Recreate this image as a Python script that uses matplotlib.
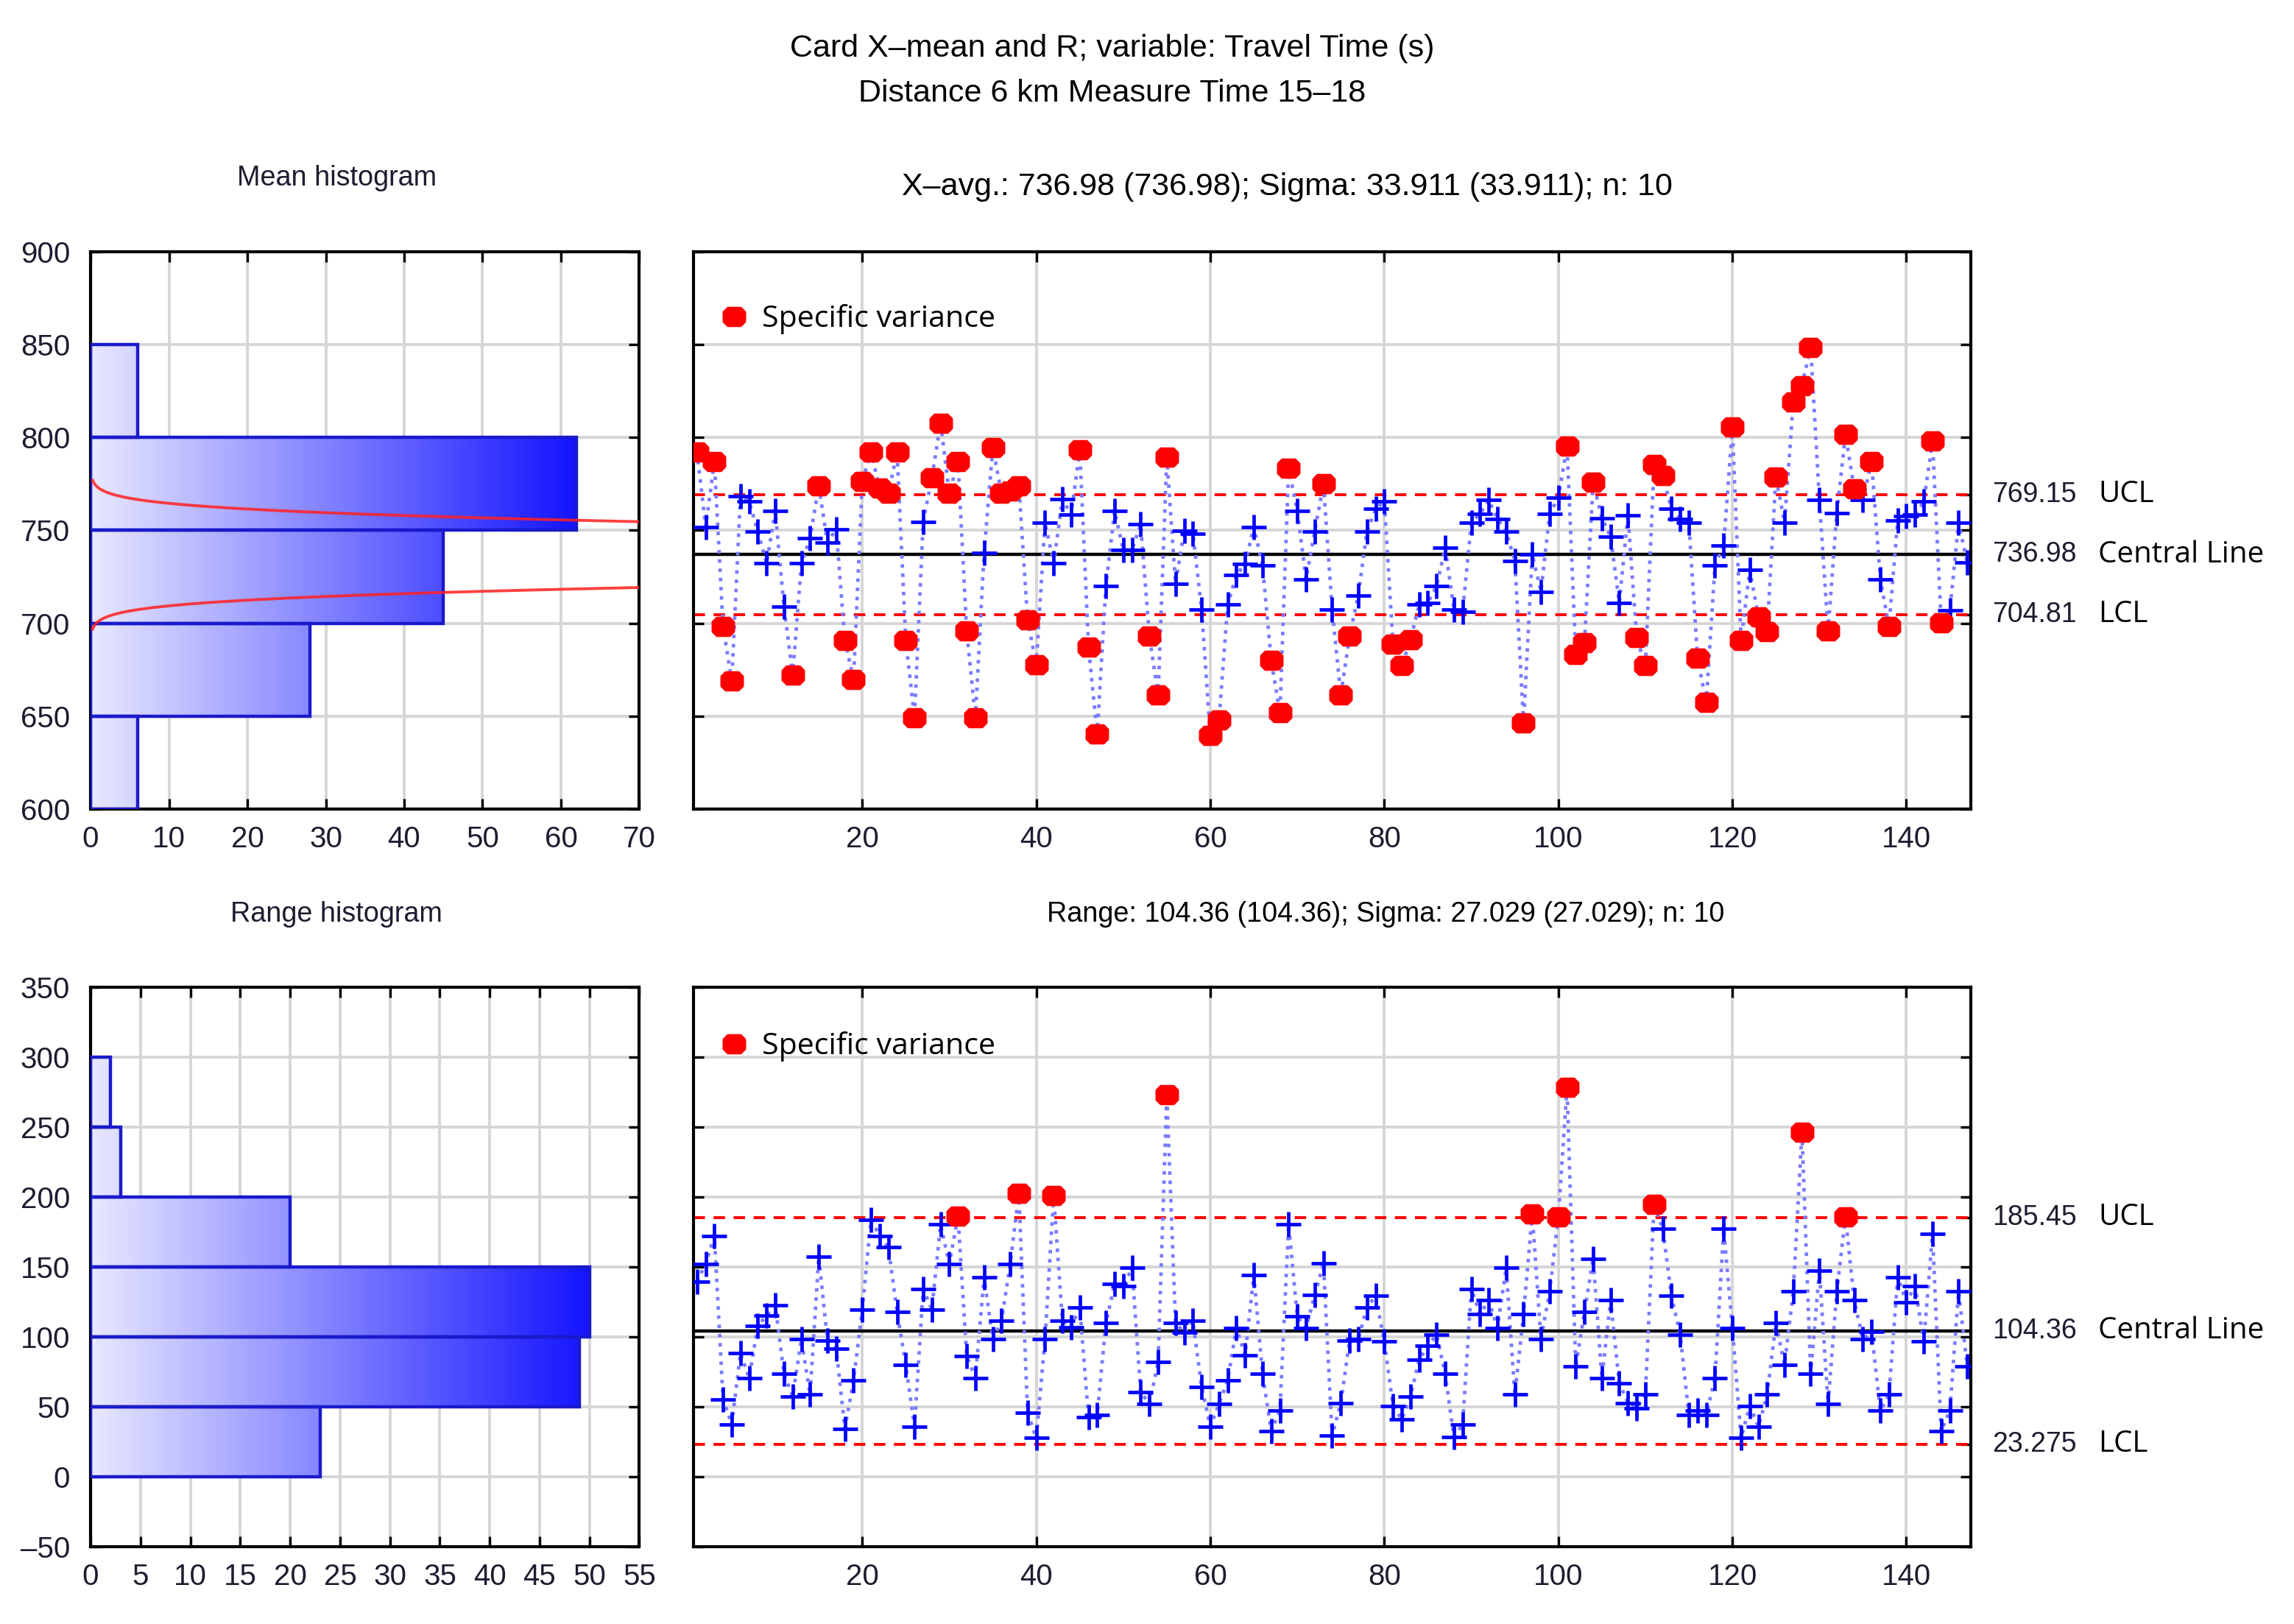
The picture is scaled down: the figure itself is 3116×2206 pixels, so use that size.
import numpy as np
import matplotlib
matplotlib.use("Agg")
import matplotlib.pyplot as plt
from matplotlib.colors import LinearSegmentedColormap
from matplotlib.lines import Line2D
from matplotlib.path import Path
from matplotlib import transforms

plt.rcParams['font.family'] = ['Liberation Sans', 'DejaVu Sans']

# subgroup means (n = 10), samples 1..147
mean_values = [
    792.3, 751.9, 787.1, 698.3, 668.8, 768.6, 765.5, 749.3, 732.2, 760.4,
    708.9, 672.3, 732.2, 745.8, 773.9, 743.5, 750.7, 690.8, 669.7, 776.5,
    792.0, 772.7, 770.0, 792.0, 690.8, 649.1, 754.6, 778.3, 807.8, 770.0,
    787.1, 696.0, 649.1, 737.9, 794.5, 770.0, 771.0, 773.9, 701.9, 677.6,
    754.2, 732.2, 766.9, 758.4, 793.2, 687.3, 640.3, 720.0, 760.4, 739.6,
    739.6, 753.2, 693.0, 661.4, 789.4, 721.2, 749.6, 748.4, 707.5, 639.5,
    647.9, 710.1, 725.9, 732.1, 751.9, 731.2, 679.9, 651.8, 783.6, 760.4,
    723.8, 749.3, 775.1, 707.5, 661.4, 693.0, 715.0, 749.3, 761.6, 765.5,
    688.7, 677.2, 691.0, 710.1, 711.0, 720.0, 740.5, 707.5, 706.2, 754.2,
    759.0, 766.3, 756.3, 749.3, 733.5, 646.5, 737.0, 717.1, 759.0, 767.8,
    795.3, 683.4, 689.5, 776.0, 756.7, 746.7, 711.0, 758.1, 692.2, 677.2,
    785.3, 779.5, 761.6, 756.0, 754.2, 681.1, 657.4, 731.2, 741.9, 805.5,
    690.8, 728.6, 703.3, 695.7, 778.7, 754.2, 819.2, 828.0, 848.6, 766.3,
    696.0, 759.3, 801.7, 772.5, 766.3, 787.1, 723.8, 698.3, 755.5, 757.8,
    758.7, 765.5, 798.0, 700.4, 707.0, 754.2, 732.6,
]

# subgroup ranges
range_values = [
    139.6, 152.2, 172.4, 55.4, 37.4, 88.5, 70.7, 108.0, 115.2, 122.8,
    73.5, 57.6, 98.3, 58.7, 157.6, 97.2, 91.7, 34.3, 68.9, 119.6,
    184.0, 172.4, 164.1, 118.0, 80.0, 35.9, 134.3, 119.6, 180.4, 152.2,
    186.3, 86.5, 70.7, 142.8, 98.3, 111.5, 152.2, 202.6, 45.7, 27.6,
    98.3, 201.0, 111.5, 107.0, 121.3, 42.4, 44.1, 109.8, 138.0, 136.3,
    149.3, 60.4, 52.2, 82.0, 273.3, 110.2, 103.0, 111.5, 64.1, 35.9,
    52.2, 68.9, 106.5, 87.0, 144.1, 73.5, 32.6, 47.4, 180.4, 114.6,
    106.5, 129.8, 152.6, 29.3, 52.6, 97.2, 98.3, 121.3, 129.3, 96.7,
    50.7, 40.9, 57.6, 83.7, 93.5, 101.5, 73.5, 28.3, 37.4, 134.3,
    116.3, 126.1, 106.5, 149.3, 58.7, 116.3, 188.0, 98.3, 132.6, 186.0,
    278.7, 78.7, 118.0, 156.1, 70.7, 126.1, 67.0, 52.8, 48.9, 58.7,
    194.6, 177.2, 129.3, 101.7, 44.1, 47.4, 44.1, 70.7, 177.2, 106.5,
    27.6, 50.7, 35.9, 58.7, 109.8, 80.0, 132.6, 246.7, 73.5, 147.4,
    52.2, 132.6, 185.9, 126.1, 98.3, 103.7, 47.4, 58.7, 142.8, 125.0,
    136.3, 96.7, 173.9, 32.6, 47.4, 132.6, 78.7,
]

mean_cl, mean_ucl, mean_lcl = 736.98, 769.15, 704.81
range_cl, range_ucl, range_lcl = 104.36, 185.45, 23.275
sigma_x = 33.911
n_sub = 10

mean_bins = [600, 650, 700, 750, 800, 850]
mean_counts = [6, 28, 45, 62, 6]
range_bins = [0, 50, 100, 150, 200, 250, 300]
range_counts = [23, 49, 50, 20, 3, 2]

TICK_FS = 14.5
GRID_C = '#d6d6d6'
TXT_C = '#1c1c30'
bar_cmap = LinearSegmentedColormap.from_list('bars', ['#e8e8ff', '#1414ff'])

# rounded-square marker used for points outside the limits
oct_marker = Path([(-1, -0.45), (-0.6, -0.85), (0.6, -0.85), (1, -0.45),
                   (1, 0.45), (0.6, 0.85), (-0.6, 0.85), (-1, 0.45), (-1, -0.45)],
                  closed=True)


def style_axes(ax):
    for sp in ax.spines.values():
        sp.set_linewidth(1.5)
        sp.set_color('black')
    ax.tick_params(direction='in', length=5, width=1.2, top=True, right=True,
                   labelsize=TICK_FS, labelcolor=TXT_C)
    ax.tick_params(axis='y', pad=10)
    ax.tick_params(axis='x', pad=8)
    ax.grid(True, color=GRID_C, lw=1.4, zorder=0)
    ax.set_axisbelow(True)


def draw_hist(ax, bins, counts, xlim, xticks, ylim, yticks):
    cmax = max(counts)
    for lo, hi, c in zip(bins[:-1], bins[1:], counts):
        grad = np.linspace(0, c, 256).reshape(1, -1)
        ax.imshow(grad, cmap=bar_cmap, vmin=0, vmax=cmax, extent=(0, c, lo, hi),
                  aspect='auto', origin='lower', interpolation='bilinear', zorder=2)
        ax.barh(lo, c, height=hi - lo, align='edge', fill=False,
                edgecolor='#1a1acc', lw=1.6, zorder=3)
    ax.set_xlim(*xlim)
    ax.set_ylim(*ylim)
    ax.set_xticks(xticks)
    ax.set_yticks(yticks)
    ax.set_yticklabels([str(t).replace('-', '\u2013') for t in yticks])
    style_axes(ax)


def draw_chart(ax, values, cl, ucl, lcl, ylim, yticks, labels, leg_y):
    vals = np.array(values)
    x = np.arange(1, len(vals) + 1)
    ax.plot(x, vals, ls=':', color='#7a7aff', lw=1.7, zorder=3)
    inside = (vals <= ucl) & (vals >= lcl)
    ax.plot(x[inside], vals[inside], '+', color='#0000ff', ms=12, mew=1.7,
            ls='none', zorder=4)
    ax.plot(x[~inside], vals[~inside], marker=oct_marker, color='#ff0000',
            ms=10.5, ls='none', zorder=5)
    ax.axhline(cl, color='black', lw=1.6, zorder=2)
    for lim in (ucl, lcl):
        ax.axhline(lim, color='#ff0000', lw=1.4, ls=(0, (4, 3)), zorder=2)
    ax.set_xlim(0.6, 147.4)
    ax.set_ylim(*ylim)
    ax.set_xticks(range(20, 141, 20))
    ax.set_yticks(yticks)
    ax.set_yticks([ucl, cl, lcl], minor=True)
    style_axes(ax)
    ax.tick_params(labelleft=False, labeltop=False)
    ax.tick_params(which='minor', direction='in', length=5, width=1.2,
                   left=False, right=True)
    handle = Line2D([], [], marker=oct_marker, color='#ff0000', ls='none', ms=10.5)
    ax.legend([handle], ['Specific variance'], loc='upper left',
              bbox_to_anchor=(-0.004, leg_y), frameon=False,
              handlelength=1.2, handletextpad=0.32,
              prop={'family': 'Open Sans', 'size': 14.8})
    trans = transforms.blended_transform_factory(ax.transAxes, ax.transData)
    for val, txt, lab in zip((ucl, cl, lcl), labels, ('UCL', 'Central Line', 'LCL')):
        ax.text(1.017, val, txt, transform=trans, ha='left', va='center',
                fontsize=13.5, color=TXT_C)
        ax.text(1.0997, val, lab, transform=trans, ha='left', va='center',
                fontsize=14.5, family='Open Sans', color='black')


fig = plt.figure(figsize=(15.58, 11.03), dpi=200)

ax_mh = fig.add_axes([0.0395, 0.5018, 0.2392, 0.3432])
ax_mc = fig.add_axes([0.3023, 0.5018, 0.5568, 0.3432])
ax_rh = fig.add_axes([0.0395, 0.0477, 0.2392, 0.3442])
ax_rc = fig.add_axes([0.3023, 0.0477, 0.5568, 0.3442])

draw_hist(ax_mh, mean_bins, mean_counts, (0, 70), range(0, 71, 10),
          (600, 900), list(range(600, 901, 50)))
# normal curve for subgroup means, drawn only where it leaves the axis
sig_m = sigma_x / np.sqrt(n_sub)
yy = np.linspace(600, 900, 1500)
xx = sum(mean_counts) * 50 * np.exp(-0.5 * ((yy - mean_cl) / sig_m) ** 2) / (sig_m * np.sqrt(2 * np.pi))
xx = np.where(xx < 0.25, np.nan, xx)
ax_mh.plot(xx, yy, color='#ff2020', lw=1.4, alpha=0.85, zorder=4)
ax_mh.set_xlim(0, 70)
ax_mh.set_ylim(600, 900)

draw_hist(ax_rh, range_bins, range_counts, (0, 55), range(0, 56, 5),
          (-50, 350), list(range(-50, 351, 50)))

draw_chart(ax_mc, mean_values, mean_cl, mean_ucl, mean_lcl, (600, 900),
           list(range(600, 901, 50)), ('769.15', '736.98', '704.81'), 0.955)
draw_chart(ax_rc, range_values, range_cl, range_ucl, range_lcl, (-50, 350),
           list(range(-50, 351, 50)), ('185.45', '104.36', '23.275'), 0.97)

fig.text(0.4847, 0.9703, 'Card X\u2013mean and R; variable: Travel Time (s)',
         ha='center', va='center', fontsize=15.5, color='black')
fig.text(0.4847, 0.9423, 'Distance 6 km Measure Time 15\u201318',
         ha='center', va='center', fontsize=15.5, color='black')
fig.text(0.1467, 0.8901, 'Mean histogram', ha='center', va='center',
         fontsize=13.6, color=TXT_C)
fig.text(0.1467, 0.4369, 'Range histogram', ha='center', va='center',
         fontsize=13.6, color=TXT_C)
fig.text(0.5612, 0.8847, 'X\u2013avg.: 736.98 (736.98); Sigma: 33.911 (33.911); n: 10',
         ha='center', va='center', fontsize=15.5, color='black')
fig.text(0.604, 0.4369, 'Range: 104.36 (104.36); Sigma: 27.029 (27.029); n: 10',
         ha='center', va='center', fontsize=13.6, color='black')

fig.savefig('out.png', dpi=200)
